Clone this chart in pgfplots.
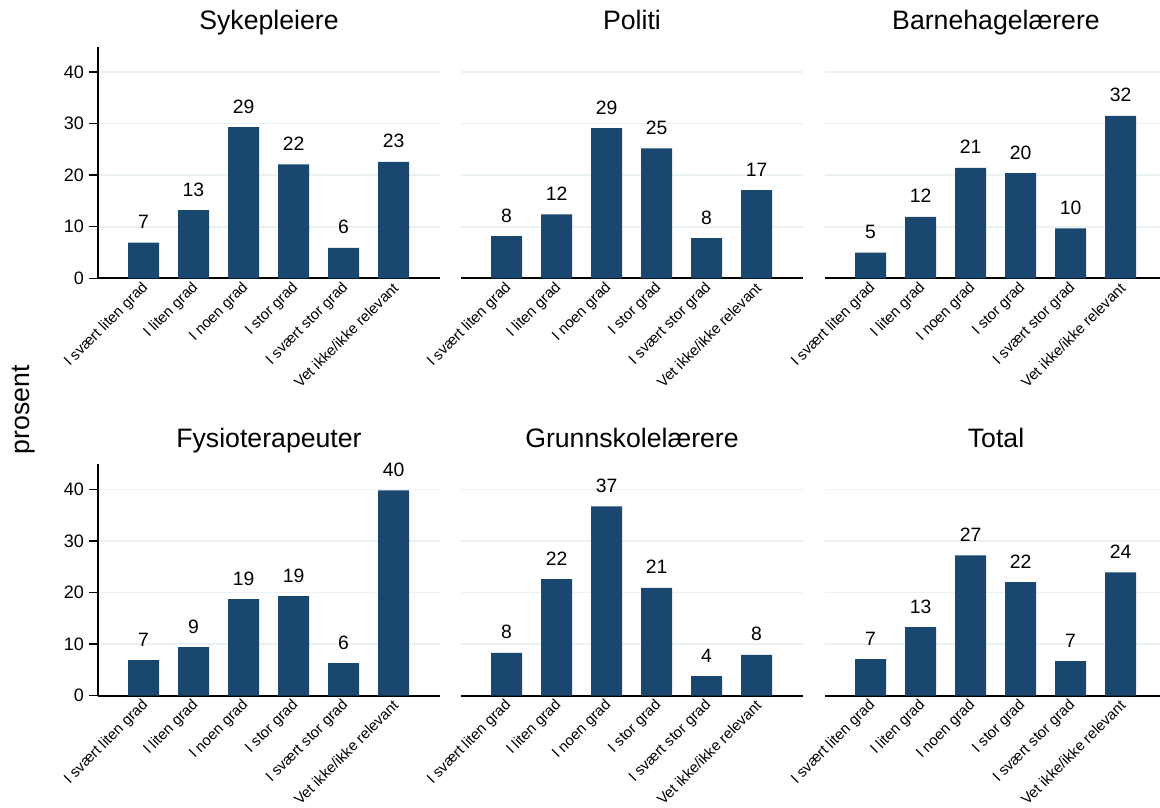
\documentclass[border=0pt]{standalone}
\usepackage{fontspec}
\setmainfont{Liberation Sans}
\usepackage{pgfplots}
\pgfplotsset{compat=1.18}

\definecolor{barblue}{RGB}{26,71,111}
\definecolor{gridc}{RGB}{234,242,243}

\pgfplotsset{
  panel/.style={
    scale only axis, width=256.5pt, height=173.5pt,
    anchor=south west,
    xmin=0.09, xmax=6.93, ymin=0, ymax=44.85,
    ybar, bar width=23.25pt, bar shift=0pt,
    axis x line*=bottom, axis y line*=left,
    x axis line style={line width=1.4pt, -},
    y axis line style={line width=1.1pt, -},
    xtick={1,...,6},
    xticklabels={I svært liten grad, I liten grad, I noen grad, I stor grad, I svært stor grad, Vet ikke/ikke relevant},
    x tick style={draw=none},
    x tick label style={rotate=45, anchor=east, inner sep=0pt, xshift=2.5pt, yshift=0pt,
      font=\fontsize{11.2}{13}\selectfont},
    ytick={0,10,20,30,40},
    ymajorgrids, grid style={gridc, line width=1.2pt},
    y tick style={line width=1.1pt, black},
    major tick length=7pt, tick align=outside,
    /pgf/number format/assume math mode=true,
    y tick label style={font=\fontsize{13.5}{16}\selectfont},
    title style={at={(0.5,1)}, anchor=base, yshift=6.75pt, font=\fontsize{20}{24}\selectfont},
    nodes near coords, point meta=explicit symbolic,
    every node near coord/.append style={anchor=base, yshift=10.5pt, inner sep=0pt,
      font=\fontsize{14.5}{16}\selectfont, black},
  },
  inner/.style={
    y axis line style={draw=none}, yticklabels={}, y tick style={draw=none},
  },
  bars/.style={fill=barblue, draw=none},
}

\begin{document}
\begin{tikzpicture}

% top row
\begin{axis}[panel, at={(73.5pt,396.5pt)}, title={Sykepleiere}]
  \addplot[bars] coordinates {(1,6.9)[7] (2,13.2)[13] (3,29.3)[29] (4,22.1)[22] (5,5.9)[6] (6,22.6)[23]};
\end{axis}

\begin{axis}[panel, inner, at={(345.75pt,396.5pt)}, title={Politi}]
  \addplot[bars] coordinates {(1,8.2)[8] (2,12.4)[12] (3,29.1)[29] (4,25.2)[25] (5,7.8)[8] (6,17.1)[17]};
\end{axis}

\begin{axis}[panel, inner, at={(618.75pt,396.5pt)}, title={Barnehagelærere}]
  \addplot[bars] coordinates {(1,5.0)[5] (2,11.9)[12] (3,21.4)[21] (4,20.4)[20] (5,9.7)[10] (6,31.5)[32]};
\end{axis}

% bottom row
\begin{axis}[panel, at={(73.5pt,83.5pt)}, title={Fysioterapeuter}]
  \addplot[bars] coordinates {(1,6.9)[7] (2,9.4)[9] (3,18.7)[19] (4,19.3)[19] (5,6.3)[6] (6,39.8)[40]};
\end{axis}

\begin{axis}[panel, inner, at={(345.75pt,83.5pt)}, title={Grunnskolelærere}]
  \addplot[bars] coordinates {(1,8.3)[8] (2,22.6)[22] (3,36.7)[37] (4,20.9)[21] (5,3.8)[4] (6,7.9)[8]};
\end{axis}

\begin{axis}[panel, inner, at={(618.75pt,83.5pt)}, title={Total}]
  \addplot[bars] coordinates {(1,7.1)[7] (2,13.3)[13] (3,27.2)[27] (4,22.0)[22] (5,6.7)[7] (6,23.9)[24]};
\end{axis}

\node[rotate=90, anchor=base, inner sep=0pt, font=\fontsize{20}{24}\selectfont] at (22pt,297.75pt) {prosent};

\pgfresetboundingbox
\useasboundingbox (0,0) rectangle (870pt,605.25pt);
\end{tikzpicture}
\end{document}
